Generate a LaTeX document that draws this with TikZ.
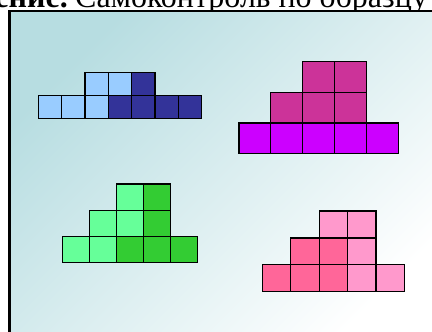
\documentclass[tikz,border=0pt]{standalone}
\usepackage{fontspec}
\setmainfont{Liberation Serif}
\definecolor{lblue}{HTML}{99CCFF}
\definecolor{dblue}{HTML}{333399}
\definecolor{mag}{HTML}{CC3399}
\definecolor{purp}{HTML}{CC00FF}
\definecolor{lgreen}{HTML}{66FF99}
\definecolor{dgreen}{HTML}{33CC33}
\definecolor{lpink}{HTML}{FF99CC}
\definecolor{dpink}{HTML}{FF6699}
\definecolor{bgteal}{HTML}{B7DDE1}
\tikzset{
  cellbox/.style={draw=black, line width=1.2bp},
  titletext/.style={inner sep=0pt, font=\fontsize{32bp}{38bp}\selectfont},
  framepen/.style={draw=black, line width=2.6bp}
}
\newcommand\blockrow[6]{%
  \foreach \cc [count=\ii from 0] in {#6}
    \draw[cellbox, fill=\cc] (#1+\ii*#3, #2) rectangle ++(#3, #4);%
}
\begin{document}
\begin{tikzpicture}[x=1bp, y=-1bp]
\useasboundingbox (0,0) rectangle (432,332);
\clip (0,0) rectangle (432,332);
% title (partly cut off at the top)
\node[titletext, anchor=base east, font=\fontsize{32bp}{38bp}\selectfont\bfseries] (tbold) at (68,7.5) {ение.};
\node[titletext, anchor=base west] (tmain) at (75,7.5) {Самоконтроль по образцу};
% background panel
\shade[top color=bgteal, bottom color=white, shading angle=45] (9.5,11) rectangle (445,345);
\draw[framepen] (9.5,345) -- (9.5,11) -- (445,11);
% blue
\blockrow{85}{72.3}{23.35}{23}{}{lblue,lblue,dblue}
\blockrow{38.3}{95.3}{23.35}{23}{}{lblue,lblue,lblue,dblue,dblue,dblue,dblue}
% magenta
\blockrow{302.7}{61.7}{31.86}{30.6}{}{mag,mag}
\blockrow{270.86}{92.3}{31.86}{30.6}{}{mag,mag,mag}
\blockrow{239}{122.9}{31.86}{30.6}{}{purp,purp,purp,purp,purp}
% green
\blockrow{116.46}{184}{27.08}{26.1}{}{lgreen,dgreen}
\blockrow{89.38}{210.1}{27.08}{26.1}{}{lgreen,lgreen,dgreen}
\blockrow{62.3}{236.2}{27.08}{26.1}{}{lgreen,lgreen,dgreen,dgreen,dgreen}
% pink
\blockrow{319.1}{211}{28.4}{26.9}{}{lpink,lpink}
\blockrow{290.7}{237.9}{28.4}{26.9}{}{dpink,dpink,lpink}
\blockrow{262.3}{264.8}{28.4}{26.9}{}{dpink,dpink,dpink,lpink,lpink}
\end{tikzpicture}
\end{document}
